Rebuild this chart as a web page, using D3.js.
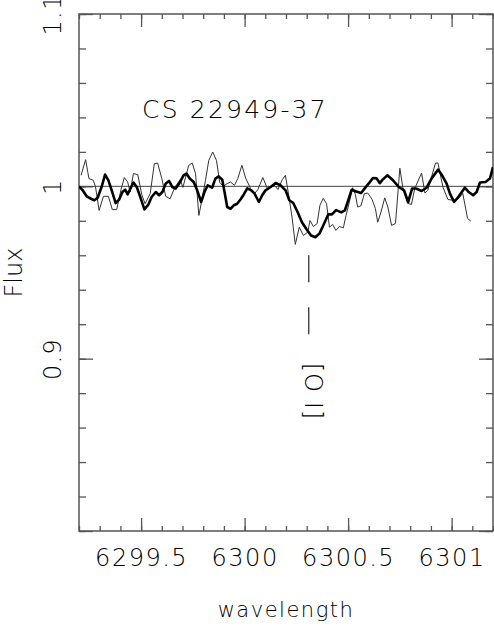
<!DOCTYPE html>
<html>
<head>
<meta charset="utf-8">
<script src="https://cdn.jsdelivr.net/npm/d3@7"></script>
<style>
  body { margin: 0; background: #fff; }
  svg text { font-family: "DejaVu Sans", sans-serif; font-weight: 200; fill: #000; }
</style>
</head>
<body>
<div id="chart"></div>
<script>
// thin spectrum (observed)
const thinWave = [6299.210, 6299.232, 6299.248, 6299.269, 6299.280, 6299.297, 6299.318, 6299.342, 6299.361, 6299.382,
  6299.403, 6299.419, 6299.435, 6299.447, 6299.463, 6299.484, 6299.503, 6299.519, 6299.544, 6299.564,
  6299.580, 6299.600, 6299.619, 6299.640, 6299.664, 6299.689, 6299.702, 6299.730, 6299.747, 6299.763,
  6299.779, 6299.795, 6299.811, 6299.827, 6299.846, 6299.864, 6299.880, 6299.897, 6299.916, 6299.932,
  6299.951, 6299.967, 6299.987, 6300.005, 6300.029, 6300.048, 6300.064, 6300.088, 6300.110, 6300.126,
  6300.145, 6300.161, 6300.182, 6300.197, 6300.210, 6300.229, 6300.245, 6300.264, 6300.284, 6300.305,
  6300.316, 6300.332, 6300.350, 6300.364, 6300.380, 6300.396, 6300.410, 6300.425, 6300.441, 6300.458,
  6300.477, 6300.490, 6300.506, 6300.522, 6300.535, 6300.546, 6300.562, 6300.579, 6300.595, 6300.616,
  6300.632, 6300.643, 6300.659, 6300.677, 6300.692, 6300.710, 6300.729, 6300.750, 6300.764, 6300.788,
  6300.806, 6300.822, 6300.855, 6300.871, 6300.885, 6300.922, 6300.934, 6300.958, 6300.982, 6301.006,
  6301.030, 6301.054, 6301.077, 6301.093]
const thinFlux = [1.0064, 1.0155, 1.0045, 1.0035, 0.9996, 0.9860, 0.9942, 0.9942, 0.9865, 0.9865,
  0.9981, 1.0051, 1.0025, 0.9967, 1.0074, 1.0068, 0.9953, 0.9899, 0.9958, 1.0132,
  1.0135, 1.0045, 0.9942, 0.9928, 0.9996, 1.0039, 0.9994, 1.0122, 1.0135, 1.0074,
  0.9831, 0.9928, 1.0035, 1.0151, 1.0199, 1.0151, 1.0023, 1.0000, 1.0016, 1.0025,
  1.0006, 1.0045, 1.0122, 1.0048, 0.9987, 0.9958, 0.9981, 1.0051, 0.9987, 0.9996,
  1.0006, 0.9981, 1.0039, 1.0064, 0.9971, 0.9822, 0.9663, 0.9763, 0.9715, 0.9734,
  0.9802, 0.9767, 0.9783, 0.9890, 0.9930, 0.9899, 0.9763, 0.9779, 0.9744, 0.9767,
  0.9759, 0.9831, 0.9909, 0.9992, 0.9953, 0.9880, 0.9887, 0.9958, 0.9961, 0.9924,
  0.9870, 0.9792, 0.9851, 0.9933, 0.9880, 0.9773, 0.9785, 1.0105, 0.9996, 0.9901,
  0.9895, 0.9988, 1.0077, 0.9961, 0.9977, 1.0135, 1.0135, 0.9996, 0.9924, 0.9919,
  0.9924, 0.9959, 0.9814, 0.9798]

// thick spectrum (comparison)
const thickWave = [6299.200, 6299.216, 6299.237, 6299.258, 6299.274, 6299.290, 6299.309, 6299.326, 6299.342, 6299.358,
  6299.377, 6299.394, 6299.410, 6299.423, 6299.435, 6299.452, 6299.463, 6299.479, 6299.495, 6299.516,
  6299.535, 6299.551, 6299.571, 6299.587, 6299.603, 6299.619, 6299.635, 6299.651, 6299.667, 6299.684,
  6299.705, 6299.719, 6299.735, 6299.754, 6299.771, 6299.790, 6299.806, 6299.822, 6299.843, 6299.859,
  6299.875, 6299.892, 6299.903, 6299.916, 6299.932, 6299.948, 6299.964, 6299.980, 6299.996, 6300.013,
  6300.032, 6300.048, 6300.069, 6300.085, 6300.101, 6300.126, 6300.150, 6300.174, 6300.198, 6300.216,
  6300.235, 6300.256, 6300.277, 6300.300, 6300.321, 6300.342, 6300.362, 6300.380, 6300.404, 6300.422,
  6300.442, 6300.467, 6300.484, 6300.498, 6300.517, 6300.539, 6300.563, 6300.588, 6300.604, 6300.620,
  6300.637, 6300.653, 6300.667, 6300.690, 6300.717, 6300.745, 6300.770, 6300.790, 6300.809, 6300.830,
  6300.855, 6300.879, 6300.903, 6300.935, 6300.954, 6300.976, 6300.992, 6301.012, 6301.032, 6301.064,
  6301.083, 6301.104, 6301.121, 6301.137, 6301.164, 6301.185, 6301.200]
const thickFlux = [1.0000, 0.9980, 0.9942, 0.9928, 0.9919, 0.9934, 0.9996, 1.0068, 1.0035, 0.9977,
  0.9903, 0.9923, 0.9967, 0.9981, 0.9953, 0.9996, 1.0022, 0.9996, 0.9942, 0.9866,
  0.9894, 0.9938, 0.9967, 0.9948, 0.9967, 1.0016, 1.0031, 0.9996, 0.9987, 1.0016,
  1.0064, 1.0074, 1.0045, 1.0025, 0.9977, 0.9909, 0.9967, 1.0006, 0.9992, 1.0045,
  1.0058, 1.0039, 0.9967, 0.9880, 0.9870, 0.9890, 0.9899, 0.9924, 0.9953, 0.9988,
  0.9977, 0.9958, 0.9909, 0.9948, 0.9977, 0.9996, 1.0019, 1.0006, 0.9977, 0.9919,
  0.9903, 0.9851, 0.9792, 0.9750, 0.9715, 0.9705, 0.9727, 0.9773, 0.9837, 0.9837,
  0.9862, 0.9849, 0.9860, 0.9909, 0.9980, 0.9970, 0.9961, 1.0000, 1.0023, 1.0048,
  1.0047, 1.0019, 1.0039, 1.0064, 1.0035, 0.9996, 0.9977, 0.9909, 0.9987, 0.9987,
  0.9973, 0.9992, 1.0045, 1.0097, 1.0064, 1.0016, 0.9958, 0.9909, 0.9938, 0.9992,
  0.9967, 0.9948, 0.9967, 1.0022, 1.0025, 1.0045, 1.0112]

const xLabelTicks = [6299.5, 6300, 6300.5, 6301]
const yLabelTicks = [0.9, 1, 1.1]
const starName = "CS 22949-37"
const lineName = "[O I]"
const lineWave = 6300.31
const lineMarkFlux = [0.96, 0.914]
const lineLabelFlux = 0.881

const width = 494
const height = 626
const margin = {top: 14, right: 1, bottom: 95, left: 79}

const svg = d3.select("#chart")
  .append("svg")
  .attr("width", width)
  .attr("height", height)

const xScale = d3.scaleLinear()
  .domain([6299.2, 6301.2])
  .range([margin.left, width - margin.right])

const yScale = d3.scaleLinear()
  .domain([0.8, 1.1])
  .range([height - margin.bottom, margin.top])

const x0 = margin.left, x1 = width - margin.right
const y0 = margin.top, y1 = height - margin.bottom

svg.append("clipPath").attr("id", "clip")
  .append("rect")
  .attr("x", x0).attr("y", y0)
  .attr("width", x1 - x0).attr("height", y1 - y0)

const frameColor = "#555"
const xMinor = d3.range(6299.2, 6301.21, 0.1).map(d => +d.toFixed(2))
const yMinor = d3.range(0.8, 1.101, 0.02).map(d => +d.toFixed(2))
const yMajor = [0.8, 0.9, 1, 1.1]
const plain = d => String(d)

// ticks, all pointing inward
const addAxis = (axis, tx, ty) => {
  const g = svg.append("g").attr("transform", `translate(${tx},${ty})`).call(axis)
  g.select(".domain").remove()
  g.selectAll("line").attr("stroke", frameColor).attr("stroke-width", 1.3)
  return g
}

addAxis(d3.axisBottom(xScale).tickValues(xMinor).tickSize(-5).tickFormat(""), 0, y1)
addAxis(d3.axisTop(xScale).tickValues(xMinor).tickSize(-5).tickFormat(""), 0, y0)
addAxis(d3.axisTop(xScale).tickValues(xLabelTicks).tickSize(-13).tickFormat(""), 0, y0)
addAxis(d3.axisLeft(yScale).tickValues(yMinor).tickSize(-7).tickFormat(""), x0, 0)
addAxis(d3.axisRight(yScale).tickValues(yMinor).tickSize(-7).tickFormat(""), x1, 0)
addAxis(d3.axisLeft(yScale).tickValues(yMajor).tickSize(-14).tickFormat(""), x0, 0)
addAxis(d3.axisRight(yScale).tickValues(yMajor).tickSize(-14).tickFormat(""), x1, 0)

const xAxisG = addAxis(d3.axisBottom(xScale).tickValues(xLabelTicks).tickSize(-13).tickPadding(18).tickFormat(plain), 0, y1)
xAxisG.selectAll("text")
  .attr("font-size", 24)
  .attr("letter-spacing", 1.5)
  .attr("fill", "#000")

const yAxisG = addAxis(d3.axisLeft(yScale).tickValues(yLabelTicks).tickSize(0).tickFormat(plain), x0, 0)
yAxisG.selectAll("text")
  .attr("x", null).attr("dy", null)
  .attr("text-anchor", "middle")
  .attr("transform", "translate(-18,0) rotate(-90)")
  .attr("font-size", 24)
  .attr("letter-spacing", 1.2)
  .attr("fill", "#000")

// frame
svg.append("rect")
  .attr("x", x0).attr("y", y0)
  .attr("width", x1 - x0).attr("height", y1 - y0)
  .attr("fill", "none")
  .attr("stroke", frameColor)
  .attr("stroke-width", 1.5)

const plot = svg.append("g").attr("clip-path", "url(#clip)")

// continuum at 1
plot.append("line")
  .attr("x1", x0).attr("x2", x1)
  .attr("y1", yScale(1)).attr("y2", yScale(1))
  .attr("stroke", "#444")
  .attr("stroke-width", 1)

const line = d3.line()
  .x(d => xScale(d[0]))
  .y(d => yScale(d[1]))

plot.append("path")
  .datum(d3.zip(thinWave, thinFlux))
  .attr("d", line)
  .attr("fill", "none")
  .attr("stroke", "#333")
  .attr("stroke-width", 1)

plot.append("path")
  .datum(d3.zip(thickWave, thickFlux))
  .attr("d", line)
  .attr("fill", "none")
  .attr("stroke", "#000")
  .attr("stroke-width", 2.6)
  .attr("stroke-linejoin", "round")

// [O I] marker
plot.append("line")
  .attr("x1", xScale(lineWave)).attr("x2", xScale(lineWave))
  .attr("y1", yScale(lineMarkFlux[0])).attr("y2", yScale(lineMarkFlux[1]))
  .attr("stroke", "#222")
  .attr("stroke-width", 1.2)
  .attr("stroke-dasharray", "27,25")

svg.append("text")
  .attr("transform", `translate(${xScale(lineWave) - 4},${yScale(lineLabelFlux)}) rotate(90)`)
  .attr("text-anchor", "middle")
  .attr("font-size", 24)
  .attr("letter-spacing", 1)
  .text(lineName)

svg.append("text")
  .attr("x", 142)
  .attr("y", 118)
  .attr("font-size", 25)
  .attr("letter-spacing", 2.2)
  .text(starName)

// axis titles
svg.append("text")
  .attr("x", (x0 + x1) / 2)
  .attr("y", 617)
  .attr("text-anchor", "middle")
  .attr("font-size", 21)
  .attr("letter-spacing", 1.5)
  .text("wavelength")

svg.append("text")
  .attr("transform", `translate(22,${(y0 + y1) / 2}) rotate(-90)`)
  .attr("text-anchor", "middle")
  .attr("font-size", 24)
  .text("Flux")
</script>
</body>
</html>
